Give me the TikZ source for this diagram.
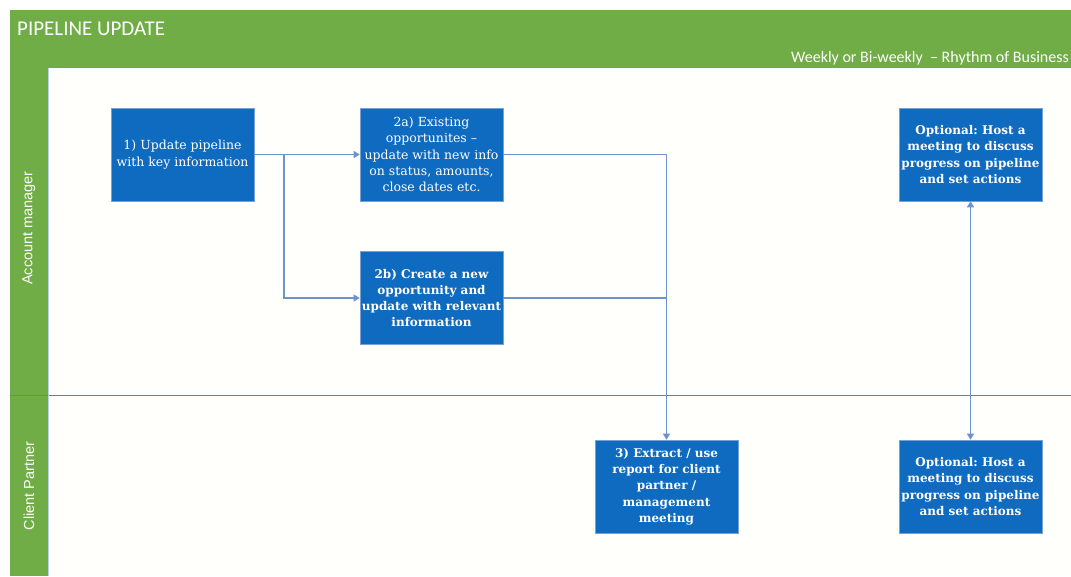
\documentclass[tikz,border=0pt]{standalone}
\usepackage{fontspec}
\setmainfont{DejaVu Serif}
\newfontfamily\headfont{Carlito}
\newfontfamily\lanefont{Liberation Sans}
\usetikzlibrary{arrows.meta}
\frenchspacing
\definecolor{bandgreen}{RGB}{112,173,71}
\definecolor{boxblue}{RGB}{14,107,192}
\definecolor{boxedge}{RGB}{120,160,215}
\definecolor{flowline}{RGB}{110,146,204}
\definecolor{laneline}{RGB}{100,130,175}
\tikzset{
  stepbox/.style={draw=boxedge, line width=0.6pt, fill=boxblue, text=white,
    minimum width=143pt, minimum height=93pt, inner sep=0pt,
    align=center, font=\fontsize{12.5}{16.3}\selectfont},
  boldbox/.style={stepbox, font=\fontsize{12}{16.3}\selectfont\bfseries},
  flow/.style={draw=flowline, line width=1.2pt, -{Triangle[width=7pt,length=6pt]}},
  lanelabel/.style={text=white, rotate=90, font=\lanefont\fontsize{14.5}{16}\selectfont},
}
\begin{document}
\begin{tikzpicture}[x=1pt,y=-1pt]
  \useasboundingbox (0,0) rectangle (1071,576);
  % swimlane frame
  \fill[white] (0,0) rectangle (1071,576);
  \fill[bandgreen] (10,10) rectangle (1071,68);
  \fill[bandgreen] (10,68) rectangle (48,576);
  \fill[white!99!yellow] (48,68) rectangle (1071,576);
  \draw[laneline, line width=0.8pt] (10,395) -- (1071,395);
  \draw[boxedge!50, line width=0.6pt] (48,68) -- (48,576);
  % header texts
  \node[anchor=west, text=white, font=\headfont\fontsize{21}{23}\selectfont, inner sep=0pt]
    (title) at (17,29) {PIPELINE UPDATE};
  \node[anchor=east, text=white, font=\headfont\fontsize{16}{18}\selectfont, inner sep=0pt]
    (rhythm) at (1069,58) {Weekly or Bi-weekly \ \textendash{} Rhythm of Business};
  % lane labels
  \node[lanelabel] (laneAM) at (29,228) {Account manager};
  \node[lanelabel] (laneCP) at (29,486) {Client Partner};
  % process steps
  \node[stepbox] (s1) at (182.5,154.5) {1) Update pipeline\\with key information};
  \node[stepbox] (s2a) at (431.5,154.5) {2a) Existing\\opportunites \textendash\\update with new info\\on status, amounts,\\close dates etc.};
  \node[boldbox] (s2b) at (431.5,298) {2b) Create a new\\opportunity and\\update with relevant\\information};
  \node[boldbox] (s3) at (666.5,486.5) {3) Extract / use\\report for client\\partner /\\management\\meeting};
  \node[boldbox] (optA) at (970.5,154.5) {Optional: Host a\\meeting to discuss\\progress on pipeline\\and set actions};
  \node[boldbox] (optB) at (970.5,486.5) {Optional: Host a\\meeting to discuss\\progress on pipeline\\and set actions};
  % connectors
  \coordinate (split) at (284,154.5);
  \draw[flow] (s1.east) -- (s2a.west);
  \draw[flow] (split) |- (s2b.west);
  \draw[flow] (s2a.east) -| (s3.north);
  \draw[flow, -] (s2b.east) -- (s3.north |- s2b.east);
  \draw[flow, {Triangle[width=7pt,length=6pt]}-{Triangle[width=7pt,length=6pt]}] (optA.south) -- (optB.north);
\end{tikzpicture}
\end{document}
